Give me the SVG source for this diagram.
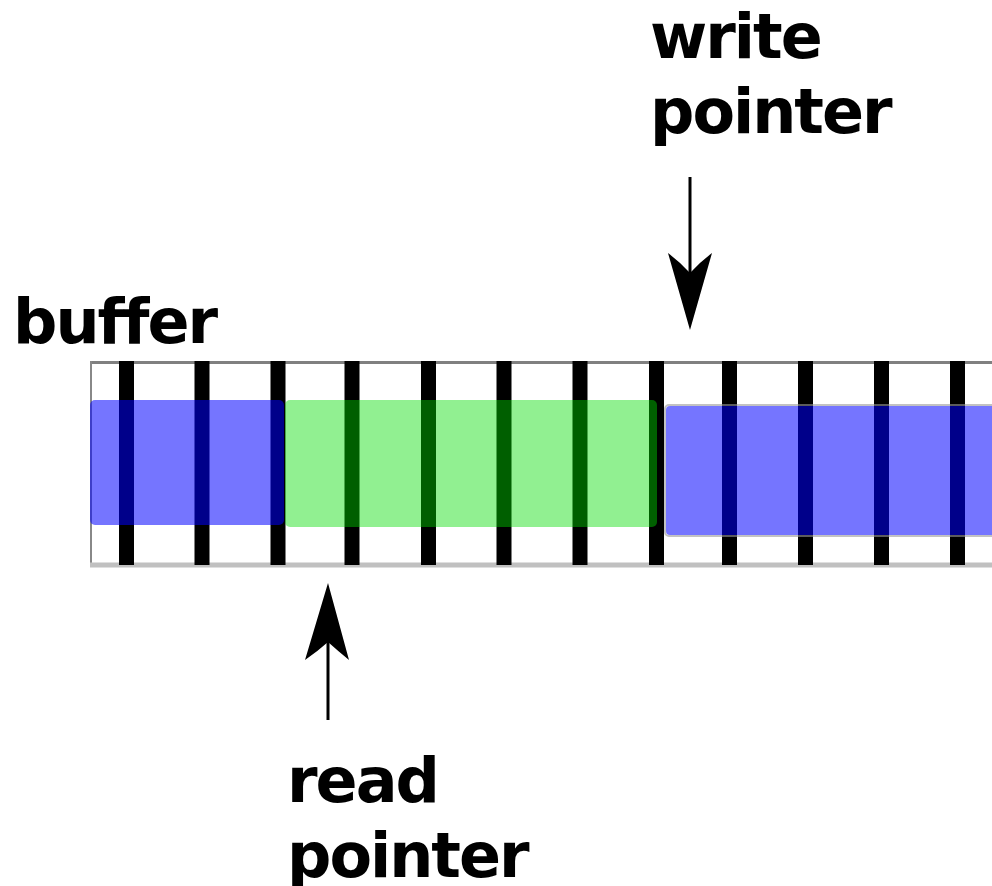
<svg xmlns="http://www.w3.org/2000/svg" width="992" height="886" viewBox="0 0 992 886">
  <style>
    .lbl { font-family: "DejaVu Sans", "Liberation Sans", sans-serif; font-weight: bold; font-size: 62px; letter-spacing: -2px; font-variant-ligatures: none; font-feature-settings: "liga" 0; fill: #000; }
    .bar { stroke: #000; stroke-width: 15; }
    .blue { fill: #0000ff; fill-opacity: 0.54; }
    .green { fill: #00dd00; fill-opacity: 0.43; }
    .arrowline { stroke: #000; stroke-width: 3; fill: none; }
    .head { fill: #000; }
  </style>
  <rect width="992" height="886" fill="#fff"/>

  <g id="buffer-label">
    <text class="lbl" x="13" y="343">buffer</text>
  </g>

  <g id="buffer">
    <line x1="90" y1="362.5" x2="992" y2="362.5" stroke="#808080" stroke-width="3"/>
    <line x1="91" y1="361" x2="91" y2="567" stroke="#888" stroke-width="2"/>
    <line x1="90" y1="565" x2="992" y2="565" stroke="#c0c0c0" stroke-width="5"/>
    <g id="cells">
      <line class="bar" x1="126.5" y1="361" x2="126.5" y2="565"/>
      <line class="bar" x1="202" y1="361" x2="202" y2="565"/>
      <line class="bar" x1="278" y1="361" x2="278" y2="565"/>
      <line class="bar" x1="352" y1="361" x2="352" y2="565"/>
      <line class="bar" x1="428.5" y1="361" x2="428.5" y2="565"/>
      <line class="bar" x1="504" y1="361" x2="504" y2="565"/>
      <line class="bar" x1="580" y1="361" x2="580" y2="565"/>
      <line class="bar" x1="656.5" y1="361" x2="656.5" y2="565"/>
      <line class="bar" x1="729.5" y1="361" x2="729.5" y2="565"/>
      <line class="bar" x1="805.5" y1="361" x2="805.5" y2="565"/>
      <line class="bar" x1="881.5" y1="361" x2="881.5" y2="565"/>
      <line class="bar" x1="957.5" y1="361" x2="957.5" y2="565"/>
    </g>
  </g>

  <g id="free-region-left">
    <rect class="blue" x="90" y="400" width="194" height="125" rx="5"/>
  </g>
  <g id="data-region">
    <rect class="green" x="285" y="400" width="372" height="127" rx="5"/>
  </g>
  <g id="free-region-right">
    <rect x="665" y="405" width="340" height="131" rx="4" fill="none" stroke="#999" stroke-opacity="0.6" stroke-width="2"/>
    <rect class="blue" x="666" y="406" width="340" height="129" rx="4"/>
  </g>

  <g id="write-pointer">
    <text class="lbl" x="650" y="58">write</text>
    <text class="lbl" x="650" y="133">pointer</text>
  </g>
  <g id="read-pointer">
    <text class="lbl" x="287" y="802">read</text>
    <text class="lbl" x="287" y="877">pointer</text>
  </g>

  <g id="connectors">
    <line class="arrowline" x1="690" y1="177" x2="690" y2="280"/>
    <path class="head" d="M690,330 L668,253 Q680,262 690,273 Q700,262 712,253 Z"/>
    <line class="arrowline" x1="328" y1="720" x2="328" y2="636"/>
    <path class="head" d="M328,583 L349,660 Q338,651 328,642 Q318,651 305,660 Z"/>
  </g>
</svg>
